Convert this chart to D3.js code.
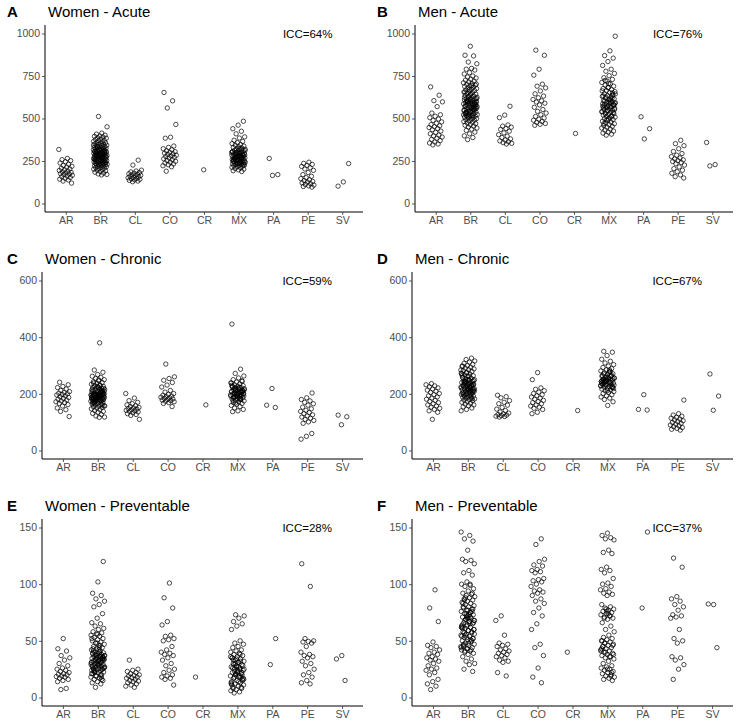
<!DOCTYPE html>
<html><head><meta charset="utf-8">
<script src="https://cdn.jsdelivr.net/npm/d3@7/dist/d3.min.js"></script>
<style>
body{margin:0;background:#fff;}
svg{display:block;font-family:"Liberation Sans",Arial,Helvetica,sans-serif;}
</style></head><body>
<svg id="chart" width="740" height="723"></svg>
<script>
const countries = ["AR","BR","CL","CO","CR","MX","PA","PE","SV"];
const panelLetters = ["A","B","C","D","E","F"];
const panelTitles = ["Women - Acute","Men - Acute","Women - Chronic","Men - Chronic","Women - Preventable","Men - Preventable"];
const iccLabels = ["ICC=64%","ICC=76%","ICC=59%","ICC=67%","ICC=28%","ICC=37%"];
const yMaxes = [1000,1000,600,600,150,150];
const yTicks = [[0,250,500,750,1000],[0,250,500,750,1000],[0,200,400,600],[0,200,400,600],[0,50,100,150],[0,50,100,150]];

const womenAcute = {
  AR:[318,265,258,252,246,238,231,224,219,214,208,203,198,194,190,186,183,180,176,173,170,166,162,158,153,148,143,138,132,120],
  BR:[512,451,414,408,402,397,395,391,386,384,379,377,371,369,366,362,359,357,353,351,348,346,343,341,339,336,334,331,329,327,325,323,321,319,317,316,314,312,311,309,307,306,304,303,301,299,298,296,295,293,292,290,289,287,286,284,283,281,280,279,277,276,274,273,271,270,268,267,266,264,263,261,260,258,257,255,254,252,251,249,248,246,245,243,241,240,238,236,235,233,231,229,227,226,224,222,220,218,216,213,211,208,205,202,199,196,192,188,184,179,174,171,168,285,302,318,262,247,333,275,291,256,310,229,344,268,297,239,280,305],
  CL:[255,226,196,191,186,182,178,175,172,169,166,163,160,157,154,151,148,145,142,139,136,132,128],
  CO:[653,604,562,465,390,384,338,330,322,316,310,305,300,296,292,288,284,280,276,272,268,263,258,253,248,243,238,233,228,222,216,190],
  CR:[198],
  MX:[484,461,440,425,410,392,385,372,365,358,352,347,343,338,334,330,326,322,319,316,313,310,307,304,301,299,296,294,291,289,287,285,283,281,279,277,275,273,271,269,267,265,263,261,259,257,255,253,251,249,247,245,243,241,239,237,235,233,231,229,227,225,222,219,216,213,210,206,202,198,193,188,298,312,276,262,284,251,305,268,290,244,323,258,272,236,301,281,264,226,295,248,318,270,286,240],
  PA:[265,170,165],
  PE:[243,236,230,224,218,210,203,195,182,170,160,152,146,140,135,130,126,121,116,112,108,104,100,96],
  SV:[235,127,102]
};
const menAcute = {
  AR:[686,637,605,598,570,532,522,513,505,497,489,480,472,464,457,452,447,441,434,426,418,410,402,397,391,384,377,370,362,356,350,345],
  BR:[925,872,868,832,822,795,790,785,770,762,750,744,738,731,726,720,715,710,705,700,696,692,688,684,680,676,672,668,664,660,656,652,648,644,640,636,632,628,625,622,619,616,613,610,607,604,601,598,595,592,589,586,583,580,577,574,571,568,565,562,559,556,553,550,547,544,541,538,535,532,529,526,523,520,517,514,511,508,505,502,499,496,493,490,486,482,478,474,470,465,460,455,450,444,437,430,420,410,398,388,376,595,612,574,548,630,522,587,603,561,541,655,579,508,617,566,533,592,670,549,515,601,582,643,527,558,609,570,694,536,585,519,624,555,597,703],
  CL:[572,520,505,462,455,449,441,436,425,415,405,396,388,380,374,368,363,358,354,350],
  CO:[902,872,790,755,702,690,680,662,645,632,622,612,604,597,590,580,566,553,542,532,522,512,503,496,490,483,477,471,466,460],
  CR:[412],
  MX:[984,898,870,855,835,812,790,778,765,752,740,730,720,712,704,697,690,683,676,670,664,658,652,646,640,635,630,625,620,615,610,605,600,596,592,588,584,580,576,572,568,564,560,556,552,548,544,540,536,532,528,524,520,516,512,508,504,499,494,489,484,479,474,469,464,459,454,449,444,438,432,426,420,414,408,402,590,612,574,636,548,663,598,527,581,706,561,619,492,644,570,603,535,681,586,512,626,553,595,470,651,566,540,608,724,579,498,633],
  PA:[510,440,380],
  PE:[372,352,340,322,306,294,284,276,268,262,257,252,247,241,234,226,215,205,196,187,178,168,158,150],
  SV:[359,229,221]
};
const womenChronic = {
  AR:[241,232,226,222,217,212,208,205,202,200,198,196,193,190,187,184,181,178,175,172,169,166,162,157,150,144,138,120],
  BR:[380,284,276,268,262,258,254,250,246,243,240,237,234,231,228,226,224,222,220,218,216,214,212,210,208,206,204,202,200,199,198,197,196,195,194,193,192,191,190,189,188,187,186,185,184,183,182,181,180,179,178,177,176,175,174,172,170,168,166,164,162,160,158,156,154,152,150,147,144,141,138,135,131,127,122,118,117,195,205,185,213,178,199,190,221,171,207,183,196,229,165,201,188,215,176,193,209,181,238,161,197,186,203,174,219,192,168,211,184,157,194,200,180,226,189,207,172,198,249,182],
  CL:[201,185,176,170,165,161,158,155,152,150,148,146,144,142,140,138,136,133,130,127,124,110],
  CO:[305,260,254,248,240,231,224,212,206,201,198,195,192,190,188,186,184,182,180,178,176,174,172,169,166,155],
  CR:[161],
  MX:[446,287,272,263,256,250,246,242,238,235,232,229,226,224,222,220,218,216,214,212,210,208,206,204,202,200,198,196,194,192,190,188,186,184,182,180,178,175,172,169,166,163,159,155,150,145,140,137,205,215,196,223,188,209,201,230,183,212,193,219,176,207,199,239,185,203,211,190,226,197,168,214,204,187,244,192,208,179,221,200],
  PA:[219,160,152],
  PE:[203,186,180,175,170,165,160,153,147,142,138,134,130,126,122,118,114,110,106,101,96,60,50,40],
  SV:[125,119,91]
};
const menChronic = {
  AR:[236,232,228,225,221,217,213,209,205,201,197,193,189,185,181,177,173,169,165,161,157,153,149,145,140,135,110],
  BR:[326,321,316,312,308,304,300,297,294,291,288,285,282,279,276,273,270,267,264,261,258,255,252,250,248,246,244,242,240,238,236,234,232,230,228,226,224,222,220,218,216,214,212,210,208,206,204,202,200,198,196,194,192,190,188,186,184,182,180,178,176,173,170,167,164,161,158,154,150,145,140,225,238,212,251,203,229,244,218,262,196,234,209,271,222,189,247,215,257,231,200,284,226,241,207,219,265,192,236,213,249,228,183,274,221,205,243,232,216,298,199],
  CL:[195,190,186,176,170,165,160,152,146,141,136,132,129,127,125,123,121,120,118],
  CO:[275,250,221,216,211,206,201,197,193,189,185,181,177,173,169,165,161,157,153,149,145,135,130],
  CR:[141],
  MX:[350,347,335,322,315,309,303,298,293,289,285,281,277,274,271,268,265,262,259,256,253,250,248,246,244,242,240,238,236,234,232,230,228,226,224,222,220,217,214,211,208,205,201,197,193,189,185,180,172,159,247,263,233,255,241,270,226,251,237,279,244,219,258,235,266,249,229,284,242,253,212,261,239,246,231,274,252,223,257,243],
  PA:[197,145,143],
  PE:[178,130,125,121,117,114,111,108,105,102,99,96,93,90,87,84,81,78,75,72],
  SV:[270,192,142]
};
const womenPreventable = {
  AR:[52,43,41,37,35,33,30,28,26,25,24,23,22,21,20.5,20,19,18.5,18,17,16,15,14,8,7],
  BR:[120,102,92,90,87,85,82,80,74,70,66,65,63,61,60,58,57,56,55,54,53,52,51,50,49,48,47,46,45,44,43,42,41,40,39.5,39,38.5,38,37.5,37,36.5,36,35.5,35,34.5,34,33.5,33,32.5,32,31.5,31,30.5,30,29.5,29,28.5,28,27.5,27,26.5,26,25.5,25,24.5,24,23.5,23,22.5,22,21,20,19,18,17,16,15,14,13,12,9,34,28,41,25,37,31,46,22,35,29,39,18,33,27,44,24,36,30,52,20,38,26,32,43,16,35,29,40,23,34,56,27,31,19,37,42,25,33,48,21,36],
  CL:[33,25,24,23,22,21,20,19.5,19,18,17.5,17,16,15,14.5,14,13,12,11,10,9],
  CO:[101,88,79,67,64,55,54,52,51,50,45,42,40,39,38,37,35,33,30,28,25,24,22,20,19,18,17,16,11],
  CR:[18],
  MX:[73,72,70,67,65,63,60,50,48,47,45,44,42,41,40,39,38,37,36,35,34,33,32,31,30,29,28,27,26,25,24,23,22,21,20,19,18,17,16,15,14,13,12,11,10,9,8,7,6,5,4,28,22,35,18,30,25,14,33,20,27,12,38,23,17,31,26,9,21,36,19,29,15,24,11,32,20,16,27,8,22,34,13,25,18],
  PA:[52,29],
  PE:[118,98,52,50,49.5,49,48,45,40,38,37,36,35,32,30,28,25,22,20,18,15,13,12],
  SV:[37,34,15]
};
const menPreventable = {
  AR:[95,79,67,49,46,45,44,42,40,39,38,36,35,34,33,32,30,28,26,25,24,22,20,16,14,12,10,7],
  BR:[146,143,140,138,130,122,121,120,118,112,110,108,102,100,99,98,96,94,92,91,90,89,88,87,86,85,84,83,82,81,80,79,78,77,76,75,74,73,72,71,70,69,68,67,66,65,64,63,62,61,60,59,58,57,56,55,54,53,52,51,50,49,48,47,46,45,44,43,42,41,40,39,38,36,34,32,30,29,25,23,70,62,75,55,68,48,80,58,72,44,65,86,52,77,61,42,69,56,73,47,92,63,54,71,41,66,59,83,50,74,45,67,57,78,43,64,51,88,60,70,46,76,53,62,100,68],
  CL:[72,68,55,48,47,46,45,43,42,41,40,39,38,37,36,35,33,32,31,22,19],
  CO:[140,135,122,120,117,116,113,112,111,110,105,104,103,102,100,98,95,94,93,92,90,87,85,83,79,75,72,65,60,47,44,37,26,18,13],
  CR:[40],
  MX:[145,143,141,140,139,130,128,127,115,113,112,110,105,101,100,98,96,95,93,92,91,90,82,80,79,78,77,76,75,74,73,72,71,70,69,66,63,60,58,55,53,52,51,50,49,48,47,46,45,44,43,42,41,40,39,38,37,36,35,34,32,30,28,27,26,25,24,23,22,21,20,19,18,17,16,15,76,43,72,48,38,74,45,22,78,41,36,70,46,25,50,19,40],
  PA:[146,79],
  PE:[123,115,89,87,85,82,80,77,73,72,71,70,60,52,50,48,36,35,33,29,25,16],
  SV:[82,82.5,44]
};
const panelData = [womenAcute, menAcute, womenChronic, menChronic, womenPreventable, menPreventable];

const svg = d3.select("#chart");
const rowTops = [25, 272, 519];
const plotH = 187;
const jitterHalf = 0.2;

panelData.forEach((data, p) => {
  const row = Math.floor(p / 2), col = p % 2;
  const colStart = col * 370;
  const left = colStart + (row === 0 ? 45 : 42);
  const right = colStart + 363;
  const top = rowTops[row], bottom = top + plotH;
  const ymax = yMaxes[p];
  const g = svg.append("g");

  const x = d3.scalePoint().domain(countries).range([left, right]).padding(0.6);
  const step = x.step();
  const y = d3.scaleLinear().domain([-0.05 * ymax, ymax * 1.05]).range([bottom, top]);

  countries.forEach((c, ci) => {
    const vals = data[c] || [];
    const pts = vals.map((v, i) => ({
      v,
      dx: (((i * 0.6180339887 + ci * 0.37 + p * 0.13) % 1) - 0.5) * 2 * jitterHalf
    }));
    g.append("g").selectAll("circle").data(pts).join("circle")
      .attr("cx", d => x(c) + d.dx * step)
      .attr("cy", d => y(d.v))
      .attr("r", 2.2)
      .attr("fill", "none")
      .attr("stroke", "#000")
      .attr("stroke-width", 0.7);
  });

  const ax = g.append("g").attr("transform", `translate(0,${bottom})`)
    .call(d3.axisBottom(x).tickSize(3).tickPadding(2));
  const ay = g.append("g").attr("transform", `translate(${left},0)`)
    .call(d3.axisLeft(y).tickValues(yTicks[p]).tickFormat(d3.format("d")).tickSize(3).tickPadding(2));
  [ax, ay].forEach(a => {
    a.select(".domain").attr("stroke", "#000").attr("stroke-width", 1)
      .attr("d", a === ax ? `M${left},0H${right}` : `M0,${top}V${bottom}`);
    a.selectAll(".tick line").attr("stroke", "#333").attr("stroke-width", 0.8);
    a.selectAll(".tick text").attr("fill", "#4d4d4d").style("font-size", "10.5px")
      .style("font-family", "'Liberation Sans',Arial,sans-serif");
  });

  g.append("text").attr("x", colStart + 7).attr("y", top - 8)
    .style("font-size", "15px").style("font-weight", "bold").attr("fill", "#000")
    .text(panelLetters[p]);
  g.append("text").attr("x", left + 3).attr("y", top - 8)
    .style("font-size", "15px").attr("fill", "#000")
    .text(panelTitles[p]);

  g.append("text").attr("x", x("PE")).attr("y", y(ymax))
    .attr("text-anchor", "middle").attr("dominant-baseline", "central")
    .style("font-size", "11.5px").attr("fill", "#000")
    .text(iccLabels[p]);
});
</script>
</body></html>
